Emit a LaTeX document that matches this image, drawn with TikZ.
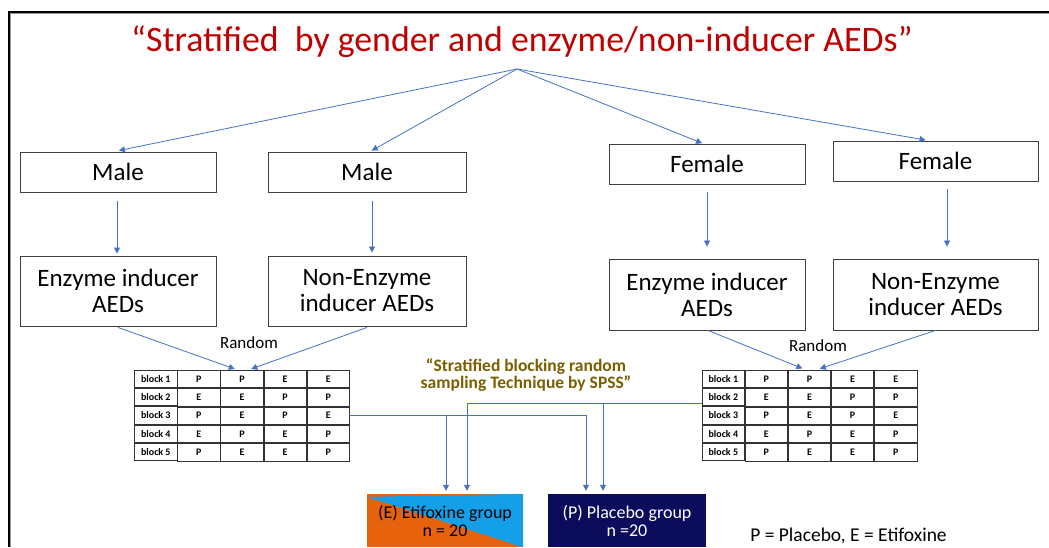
\documentclass[tikz,border=0pt]{standalone}
\usepackage{fontspec}
\setmainfont{Carlito}
\usetikzlibrary{arrows.meta,calc,matrix,backgrounds}
\definecolor{titlered}{RGB}{192,0,0}
\definecolor{olivetext}{RGB}{122,94,0}
\definecolor{arrowblue}{RGB}{68,114,196}
\definecolor{orangeE}{RGB}{230,98,12}
\definecolor{blueE}{RGB}{20,160,232}
\definecolor{navyP}{RGB}{12,12,92}
\tikzset{
  box/.style={draw=black!75, line width=0.9pt, fill=white, align=center, inner sep=0pt,
              font=\fontsize{25}{26}\selectfont},
  arr/.style={draw=arrowblue, line width=0.8pt, -{Triangle[width=6pt,length=6pt]}},
  cell/.style={draw=black!80, line width=0.7pt, minimum width=42.4pt, minimum height=17.4pt,
               inner sep=0pt, outer sep=0pt, font=\bfseries\fontsize{10}{12}\selectfont},
  group/.style={minimum width=156pt, minimum height=53pt, inner sep=0pt, align=center,
                font=\fontsize{18}{18}\selectfont},
  smalllabel/.style={font=\fontsize{17}{19}\selectfont},
}
\begin{document}
\begin{tikzpicture}[x=1pt,y=-1pt]
\useasboundingbox (0,0) rectangle (1049,547);
% frame
\draw[black!40, line width=1pt] (10.5,547) -- (10.5,13.5) -- (1049,13.5);
\draw[black, line width=1.4pt] (9,547) -- (9,12) -- (1049,12);

% title
\node[anchor=base, text=titlered, font=\fontsize{35.8}{38}\selectfont, inner sep=0pt] (title) at (522,51)
  {“Stratified\ \ by gender and enzyme/non-inducer AEDs”};
\coordinate (apex) at (517,69);

% first row
\node[box, minimum width=196pt, minimum height=40pt] (m1) at (118,172) {Male};
\node[box, minimum width=198pt, minimum height=40pt] (m2) at (367,172) {Male};
\node[box, minimum width=196pt, minimum height=40pt] (f1) at (707,164) {Female};
\node[box, minimum width=205pt, minimum height=40pt] (f2) at (935.5,161) {Female};

% second row
\node[box, minimum width=196pt, minimum height=70pt] (e1) at (118,291) {Enzyme inducer\\AEDs};
\node[box, minimum width=198pt, minimum height=70pt] (n1) at (367,291) {Non-Enzyme\\inducer AEDs};
\node[box, minimum width=196pt, minimum height=71pt] (e2) at (707,294.5) {Enzyme inducer\\AEDs};
\node[box, minimum width=205pt, minimum height=71pt] (n2) at (935.5,294.5) {Non-Enzyme\\inducer AEDs};

% arrows from title
\draw[arr, shorten >=5pt] (apex) -- ($(m1.north)+(-4,0)$);
\draw[arr, shorten >=2pt] (apex) -- ($(m2.north)+(3,0)$);
\draw[arr, shorten >=1pt] (apex) -- ($(f1.north)+(-4,0)$);
\draw[arr, shorten >=3pt] (apex) -- ($(f2.north)+(-7,0)$);

% vertical arrows
\draw[arr, shorten <=9pt, shorten >=2pt] ($(m1.south)+(-1,0)$) -- ($(e1.north)+(-1,0)$);
\draw[arr, shorten <=9pt, shorten >=3pt] ($(m2.south)+(5,0)$) -- ($(n1.north)+(5,0)$);
\draw[arr, shorten <=8pt, shorten >=12pt] (f1.south) -- (e2.north);
\draw[arr, shorten <=8pt, shorten >=12pt] ($(f2.south)+(11.5,0)$) -- ($(n2.north)+(11.5,0)$);

% tables
\matrix (tabL) at (242,415.5) [matrix of nodes, nodes={cell}, column sep=0pt, row sep=0pt] {
  block 1 & P & P & E & E \\
  block 2 & E & E & P & P \\
  block 3 & P & E & P & E \\
  block 4 & E & P & E & P \\
  block 5 & P & E & E & P \\
};
\matrix (tabR) at (809.5,415.5) [matrix of nodes, nodes={cell}, column sep=0pt, row sep=0pt] {
  block 1 & P & P & E & E \\
  block 2 & E & E & P & P \\
  block 3 & P & E & P & E \\
  block 4 & E & P & E & P \\
  block 5 & P & E & E & P \\
};

% random labels and arrows
\node[smalllabel] (rL) at (249,343) {Random};
\node[smalllabel] (rR) at (818,346) {Random};
\draw[arr, shorten >=4pt] ($(e1.south)+(0,1)$) -- ($(tabL-1-3.north)+(-3.5,0)$);
\draw[arr, shorten >=4pt] ($(n1.south)+(0,1)$) -- ($(tabL-1-3.north)+(5.5,0)$);
\draw[arr, shorten >=5pt] ($(e2.south)+(1,0)$) -- ($(tabR-1-3.north)+(-2.5,0)$);
\draw[arr, shorten >=5pt] ($(n2.south)+(0,0)$) -- ($(tabR-1-3.north)+(5.5,0)$);

% middle label
\node[text=olivetext, font=\bfseries\fontsize{17.5}{17}\selectfont, align=center, inner sep=0pt] (mid) at (526,375)
  {“Stratified blocking random\\sampling Technique by SPSS”};

% groups
\node[group, text=black] (ef) at (445,520.5) {(E) Etifoxine group\\n = 20};
\begin{pgfonlayer}{background}
  \fill[orangeE] (ef.south west) rectangle (ef.north east);
  \fill[blueE] ($(ef.north west)+(0,3)$) -- (ef.north east) -- (ef.south east) -- cycle;
\end{pgfonlayer}
\node[group, fill=navyP, text=white, minimum width=158pt] (pg) at (627,520.5) {(P) Placebo group\\n =20};

% connectors to groups
\coordinate (lj) at (tabL-3-5.east);
\coordinate (pgL) at ($(pg.north)+(-41,0)$);
\coordinate (pgR) at ($(pg.north)+(-24,0)$);
\coordinate (efL) at ($(ef.north)+(1,0)$);
\coordinate (efR) at ($(ef.north)+(22,0)$);
\coordinate (rj) at ($(tabR-2-1.west)+(0,6)$);
\draw[arr, shorten >=3pt] (lj) -| (pgL);
\draw[arr, shorten >=3pt] (lj -| efL) -- (efL);
\draw[arr, shorten >=3pt] (rj) -| (efR);
\draw[arr, shorten >=3pt] (rj -| pgR) -- (pgR);

% legend
\node[font=\fontsize{19.5}{21}\selectfont] (legend) at (848.5,536) {P = Placebo, E = Etifoxine};
\end{tikzpicture}
\end{document}
